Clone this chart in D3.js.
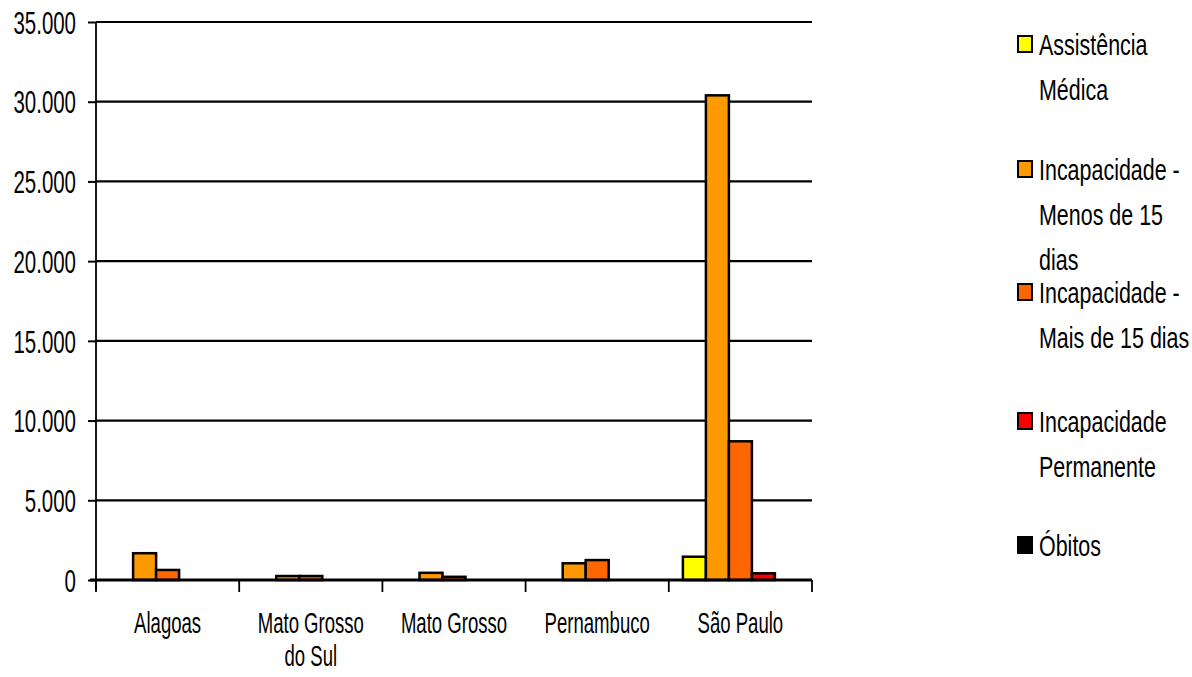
<!DOCTYPE html>
<html>
<head>
<meta charset="utf-8">
<script src="https://cdn.jsdelivr.net/npm/d3@7"></script>
<style>
body { margin: 0; background: #fff; }
text { font-family: "Liberation Sans", Arial, sans-serif; fill: #000; }
</style>
</head>
<body>
<svg></svg>
<script>
var estados = ["Alagoas", "Mato Grosso do Sul", "Mato Grosso", "Pernambuco", "São Paulo"];
var estadoLinhas = [["Alagoas"], ["Mato Grosso", "do Sul"], ["Mato Grosso"], ["Pernambuco"], ["São Paulo"]];
var series = ["Assistência Médica", "Incapacidade - Menos de 15 dias", "Incapacidade - Mais de 15 dias", "Incapacidade Permanente", "Óbitos"];
var legendLinhas = [["Assistência", "Médica"], ["Incapacidade -", "Menos de 15", "dias"], ["Incapacidade -", "Mais de 15 dias"], ["Incapacidade", "Permanente"], ["Óbitos"]];
var cores = ["#FFFF00", "#FF9900", "#FF6600", "#FF0000", "#000000"];

// values per series, in the order of estados
var assistencia = [0, 0, 0, 0, 1460];
var menos15 = [1680, 250, 450, 1050, 30400];
var mais15 = [630, 250, 200, 1250, 8700];
var permanente = [0, 0, 0, 0, 420];
var obitos = [0, 0, 0, 0, 0];
var yTicks = [0, 5000, 10000, 15000, 20000, 25000, 30000, 35000];

function tickFmt(v) {
    // brazilian thousands separator
    return d3.format(",")(v).replace(/,/g, ".");
}

function chart() {
    var width = 1192,
        height = 677;
    var left = 96, right = 812, top = 22, bottom = 580;

    var svg = d3.select("svg")
        .attr("width", width)
        .attr("height", height);

    var valores = [assistencia, menos15, mais15, permanente, obitos];

    var y = d3.scaleLinear().domain([0, 35000]).range([bottom, top]);
    var x = d3.scaleBand().domain(estados).range([left, right]);
    var xs = d3.scaleBand().domain(series).range([0, 115]);

    // gridlines
    svg.selectAll(".grid")
        .data(yTicks)
        .enter().append("line")
        .attr("x1", left).attr("x2", right)
        .attr("y1", function(d) { return y(d); })
        .attr("y2", function(d) { return y(d); })
        .attr("stroke", "#000").attr("stroke-width", 2.2);

    // y axis, narrow tall digits
    var sxTick = 0.66;
    var yAxis = d3.axisLeft(y).tickValues(yTicks).tickFormat(tickFmt).tickSize(8);
    var gy = svg.append("g").attr("transform", "translate(" + left + ",0)").call(yAxis);
    gy.select(".domain").remove();
    gy.selectAll(".tick line").attr("stroke", "#000").attr("stroke-width", 2);
    gy.selectAll("text")
        .style("font-size", "31px")
        .style("font-family", "'Liberation Sans', Arial, sans-serif")
        .attr("x", -20 / sxTick)
        .attr("dy", "0.36em")
        .attr("transform", "scale(" + sxTick + ",1)");
    svg.append("line")
        .attr("x1", left).attr("x2", left)
        .attr("y1", top).attr("y2", bottom + 10)
        .attr("stroke", "#000").attr("stroke-width", 1.8);

    // bars
    var grupo = svg.selectAll(".estado")
        .data(estados)
        .enter().append("g")
        .attr("transform", function(d) { return "translate(" + (x(d) + x.bandwidth() / 2 - 57.5) + ",0)"; });

    grupo.selectAll("rect")
        .data(function(d, i) { return series.map(function(s, j) { return {s: s, v: valores[j][i], c: cores[j]}; }); })
        .enter().filter(function(d) { return d.v > 0; }).append("rect")
        .attr("x", function(d) { return xs(d.s); })
        .attr("width", xs.bandwidth())
        .attr("y", function(d) { return y(d.v); })
        .attr("height", function(d) { return y(0) - y(d.v); })
        .attr("fill", function(d) { return d.c; })
        .attr("stroke", "#000").attr("stroke-width", 2.5);

    // x axis
    svg.append("line")
        .attr("x1", left - 6).attr("x2", right)
        .attr("y1", bottom).attr("y2", bottom)
        .attr("stroke", "#000").attr("stroke-width", 3);
    var bordas = estados.map(function(d) { return x(d); }).concat([right]);
    svg.selectAll(".xtick")
        .data(bordas)
        .enter().append("line")
        .attr("x1", function(d) { return d; }).attr("x2", function(d) { return d; })
        .attr("y1", bottom).attr("y2", bottom + 12)
        .attr("stroke", "#000").attr("stroke-width", 1.8);

    var rotulo = svg.selectAll(".xlabel")
        .data(estados)
        .enter().append("text")
        .attr("text-anchor", "middle")
        .style("font-size", "29px")
        .attr("transform", function(d) { return "translate(" + (x(d) + x.bandwidth() / 2) + ",633) scale(0.64,1)"; });
    rotulo.selectAll("tspan")
        .data(function(d, i) { return estadoLinhas[i]; })
        .enter().append("tspan")
        .attr("x", 0)
        .attr("y", function(d, i) { return i * 33; })
        .text(function(d) { return d; });

    // legend
    var legBase = [55, 180, 303, 432, 556];
    var item = svg.selectAll(".legenda")
        .data(series)
        .enter().append("g")
        .attr("transform", function(d, i) { return "translate(1018," + legBase[i] + ")"; });
    item.append("rect")
        .attr("x", 0).attr("y", -19)
        .attr("width", 14).attr("height", 16)
        .attr("fill", function(d, i) { return cores[i]; })
        .attr("stroke", "#000").attr("stroke-width", 2);
    item.append("text")
        .style("font-size", "29px")
        .attr("transform", "translate(21,0) scale(0.74,1)")
        .selectAll("tspan")
        .data(function(d, i) { return legendLinhas[i]; })
        .enter().append("tspan")
        .attr("x", 0)
        .attr("y", function(d, i) { return i * 45; })
        .text(function(d) { return d; });
}

chart();
</script>
</body>
</html>
